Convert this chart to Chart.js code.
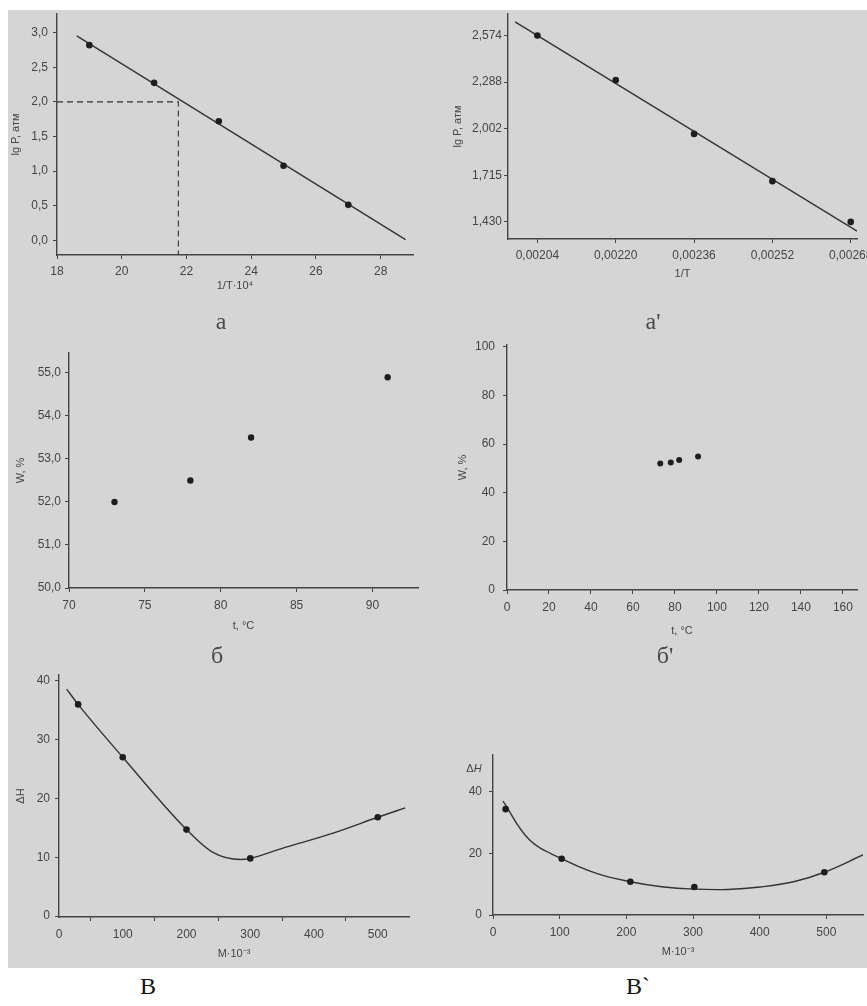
<!DOCTYPE html>
<html><head><meta charset="utf-8">
<script src="https://cdn.jsdelivr.net/npm/chart.js@4.4.1/dist/chart.umd.min.js"></script>
<style>
html,body{margin:0;padding:0;background:#fff;overflow:hidden;width:867px;height:1006px;}
#panel{position:absolute;left:8px;top:10px;width:859px;height:958px;background:#d5d5d5;}
canvas{position:absolute;}
.lbl{position:absolute;font-family:"Liberation Serif","DejaVu Serif",serif;color:#4a4a4a;transform:translate(-50%,-50%);line-height:1;}
.dh{position:absolute;font-family:"Liberation Sans",Arial,sans-serif;font-size:11px;color:#444;transform:translate(-50%,-50%);}
</style></head><body>
<div id="panel"></div>
<canvas id="cA"></canvas><canvas id="cA2"></canvas>
<canvas id="cB"></canvas><canvas id="cB2"></canvas>
<canvas id="cV"></canvas><canvas id="cV2"></canvas>
<div class="lbl" style="left:221px;top:321px;font-size:24px;">а</div>
<div class="lbl" style="left:653px;top:321px;font-size:24px;">а'</div>
<div class="lbl" style="left:217px;top:655px;font-size:24px;">б</div>
<div class="lbl" style="left:665px;top:655px;font-size:24px;">б'</div>
<div class="lbl" style="left:148px;top:986px;font-size:24px;color:#111;">В</div>
<div class="lbl" style="left:638px;top:986px;font-size:24px;color:#111;">В`</div>
<div class="dh" style="left:474px;top:768px;">Δ<i>H</i></div>
<script>
// ---- а : lg P vs 1/T·10^4 ----
const aX = [19, 21, 23, 25, 27];
const aY = [2.82, 2.275, 1.72, 1.076, 0.512];
const aFitX = [18.61, 28.77];
const aFitY = [2.953, 0.01];
const aGuideX = [18, 21.75, 21.75];
const aGuideY = [2.0, 2.0, -0.213];
const aXTicks = [18, 20, 22, 24, 26, 28];
const aYTicks = [0, 0.5, 1.0, 1.5, 2.0, 2.5, 3.0];
// ---- а' : lg P vs 1/T ----
const a2X = [0.00204, 0.00220, 0.00236, 0.00252, 0.00268];
const a2Y = [2.574, 2.30, 1.97, 1.68, 1.43];
const a2FitX = [0.0019945, 0.002693];
const a2FitY = [2.658, 1.373];
const a2XTicks = [0.00204, 0.00220, 0.00236, 0.00252, 0.00268];
const a2YTicks = [1.430, 1.715, 2.002, 2.288, 2.574];
// ---- б, б' : W, % vs t, °C ----
const bX = [73, 78, 82, 91];
const bY = [52.0, 52.5, 53.5, 54.9];
const bXTicks = [70, 75, 80, 85, 90];
const bYTicks = [50, 51, 52, 53, 54, 55];
const b2XTicks = [0, 20, 40, 60, 80, 100, 120, 140, 160];
const b2YTicks = [0, 20, 40, 60, 80, 100];
// ---- В : ΔH vs M·10^-3 ----
const vX = [30, 100, 200, 300, 500];
const vY = [36, 27, 14.7, 9.8, 16.8];
const vCurveX = [12, 30, 100, 200, 240, 285, 300, 350, 430, 500, 543];
const vCurveY = [38.6, 36, 27, 14.7, 10.9, 9.6, 9.8, 11.5, 14.1, 16.8, 18.4];
const vXTicks = [0, 50, 100, 150, 200, 250, 300, 350, 400, 450, 500];
const vYTicks = [0, 10, 20, 30, 40];
// ---- В` ----
const gX = [19, 103, 206, 302, 497];
const gY = [34.4, 18.3, 10.8, 9.1, 13.9];
const gCurveX = [15, 55, 103, 154, 206, 253, 302, 352, 401, 451, 497, 555];
const gCurveY = [37.0, 24.4, 18.3, 13.6, 10.8, 9.2, 8.4, 8.3, 9.1, 10.8, 13.9, 19.5];
const gXTicks = [0, 100, 200, 300, 400, 500];
const gYTicks = [0, 20, 40];

const INK = '#1e1e1e', AX = '#444', TXT = '#454545';
const FONT = 'Liberation Sans, Arial, sans-serif';
const pts = (xs, ys) => xs.map((x, i) => ({x, y: ys[i]}));
const comma = d => v => Number(v).toFixed(d).replace('.', ',');
const plain = v => String(v);

function scale(pos, min, max, ticks, fmt, title, tpad, lpad, extra) {
  const s = {
    type: 'linear', position: pos, min, max,
    afterBuildTicks: sc => { sc.ticks = ticks.map(v => ({value: v})); },
    ticks: {callback: fmt, color: TXT, font: {family: FONT, size: 12}, padding: lpad, autoSkip: false, maxRotation: 0},
    grid: {display: true, drawOnChartArea: false, drawTicks: true, tickLength: 4, color: AX, lineWidth: 1},
    border: {display: true, color: AX, width: 1.4},
    title: {display: !!title, text: title, color: TXT, font: {family: FONT, size: 11}, padding: tpad}
  };
  return Object.assign(s, extra || {});
}
function pointSet(data, r) {
  return {data, showLine: false, pointRadius: r, pointBackgroundColor: INK, pointBorderWidth: 0, order: 0};
}
function lineSet(data, opts) {
  return Object.assign({data, showLine: true, pointRadius: 0, borderColor: '#333', borderWidth: 1.4, fill: false, order: 1}, opts || {});
}
function build(id, box, area, xs, ys, datasets) {
  const [L, T, W, H] = box, [x0, y0, x1, y1] = area;
  const c = document.getElementById(id);
  c.style.left = L + 'px'; c.style.top = T + 'px';
  c.style.width = W + 'px'; c.style.height = H + 'px';
  c.width = W; c.height = H;
  const yW = x0 - L, xH = T + H - y1;
  xs.afterFit = s => { s.height = xH; s.paddingLeft = 0; s.paddingRight = 0; };
  ys.afterFit = s => { s.width = yW; s.paddingTop = 0; s.paddingBottom = 0; };
  new Chart(c, {
    type: 'scatter',
    data: {datasets},
    options: {
      responsive: false, animation: false,
      layout: {padding: {top: y0 - T, right: L + W - x1, left: 0, bottom: 0}},
      plugins: {legend: {display: false}, tooltip: {enabled: false}},
      scales: {x: xs, y: ys}
    }
  });
}

// а
build('cA', [8, 10, 422, 300], [57, 10, 413, 255],
  scale('bottom', 18, 29, aXTicks, plain, '1/T·10⁴', {top: 0, bottom: 17}, 5),
  scale('left', -0.213, 3.27, aYTicks, comma(1), 'lg P, атм', {top: 1, bottom: 0}, 5),
  [lineSet(pts(aFitX, aFitY)),
   lineSet(pts(aGuideX, aGuideY), {borderDash: [6, 4], borderWidth: 1.1}),
   pointSet(pts(aX, aY), 3.3)]);

// а'
build('cA2', [430, 10, 437, 300], [508, 10, 857, 239],
  scale('bottom', 0.00198, 0.0026928, a2XTicks, comma(5), '1/T', {top: 0, bottom: 29}, 5),
  scale('left', 1.325, 2.706, a2YTicks, comma(3), 'lg P, атм', {top: 21, bottom: 0}, 2),
  [lineSet(pts(a2FitX, a2FitY)), pointSet(pts(a2X, a2Y), 3.3)]);

// б
build('cB', [8, 340, 422, 300], [69, 353, 418, 588],
  scale('bottom', 70, 93, bXTicks, plain, 't, °C', {top: 0, bottom: 7}, 6),
  scale('left', 50, 55.465, bYTicks, comma(1), 'W, %', {top: 6, bottom: 0}, 4),
  [pointSet(pts(bX, bY), 3.2)]);

// б'
build('cB2', [430, 340, 437, 300], [507, 345, 857, 590],
  scale('bottom', 0, 166.7, b2XTicks, plain, 't, °C', {top: 0, bottom: 2}, 6),
  scale('left', 0, 100.8, b2YTicks, plain, 'W, %', {top: 26, bottom: 0}, 8),
  [pointSet(pts(bX, bY), 3)]);

// В
const vx = scale('bottom', 0, 549, vXTicks, v => (v % 100 === 0 ? String(v) : ''), 'M·10⁻³', {top: 0, bottom: 7}, 6);
vx.grid.color = ctx => (ctx.tick && ctx.tick.value % 100 === 50) ? AX : 'rgba(0,0,0,0)';
build('cV', [8, 660, 422, 308], [59, 675, 409, 917],
  vx,
  scale('left', -0.17, 41.0, vYTicks, plain, 'ΔH', {top: 6, bottom: 0}, 5),
  [lineSet(pts(vCurveX, vCurveY), {cubicInterpolationMode: 'monotone'}),
   pointSet(pts(vX, vY), 3.3)]);

// В`
build('cV2', [430, 660, 437, 308], [493, 755, 867, 915],
  scale('bottom', 0, 555, gXTicks, plain, 'M·10⁻³', {top: 0, bottom: 9}, 6),
  scale('left', 0, 52, gYTicks, plain, '', {top: 0, bottom: 0}, 7),
  [lineSet(pts(gCurveX, gCurveY), {tension: 0.4}),
   pointSet(pts(gX, gY), 3.3)]);
</script>
</body></html>
